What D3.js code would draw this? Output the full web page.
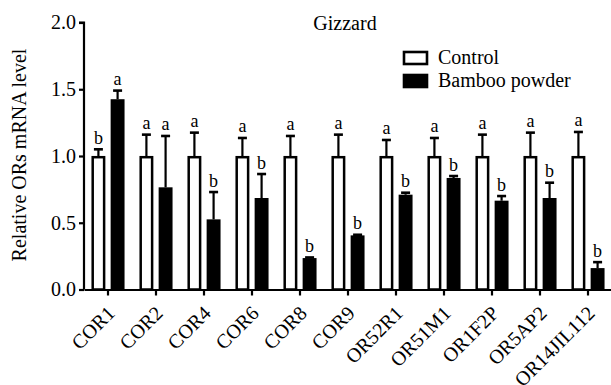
<!DOCTYPE html>
<html>
<head>
<meta charset="utf-8">
<script src="https://cdn.jsdelivr.net/npm/d3@7"></script>
<style>
  body { margin: 0; background: #fff; }
  text { font-family: "Liberation Serif", "Times New Roman", serif; fill: #000; }
</style>
</head>
<body>
<svg id="chart" width="611" height="385"></svg>
<script>
// genes on the x axis
const genes = ["COR1", "COR2", "COR4", "COR6", "COR8", "COR9", "OR52R1", "OR51M1", "OR1F2P", "OR5AP2", "OR14JIL112"];
const groups = ["Control", "Bamboo powder"];

// relative mRNA level, mean and mean + error
const controlMean = [1.0, 1.0, 1.0, 1.0, 1.0, 1.0, 1.0, 1.0, 1.0, 1.0, 1.0];
const controlErr  = [0.05, 0.16, 0.175, 0.135, 0.15, 0.16, 0.12, 0.135, 0.16, 0.175, 0.18];
const bambooMean  = [1.425, 0.765, 0.525, 0.685, 0.235, 0.405, 0.71, 0.835, 0.665, 0.685, 0.16];
const bambooErr   = [0.065, 0.385, 0.205, 0.18, 0.005, 0.005, 0.015, 0.015, 0.035, 0.115, 0.045];

// significance letters
const controlSig = ["b", "a", "a", "a", "a", "a", "a", "a", "a", "a", "a"];
const bambooSig  = ["a", "a", "b", "b", "b", "b", "b", "b", "b", "b", "b"];

const yTicks = [0, 0.5, 1.0, 1.5, 2.0];

const svg = d3.select("#chart");
const mLeft = 84, mRight = 612, mTop = 22.5, mBottom = 289.5;

let x = d3.scaleBand().domain(genes).range([mLeft, mRight]);
let xIn = d3.scaleBand().domain(groups).range([7.5, 40.5]).paddingInner(0.28);
let y = d3.scaleLinear().domain([0, 2]).range([mBottom, mTop]);

let rows = genes.map(function(g, i){
    return [
        {gene: g, group: groups[0], mean: controlMean[i], err: controlErr[i], sig: controlSig[i]},
        {gene: g, group: groups[1], mean: bambooMean[i], err: bambooErr[i], sig: bambooSig[i]}
    ];
}).flat();

// bars
let bar = svg.append("g").selectAll("g")
    .data(rows)
    .enter().append("g")
    .attr("transform", function(d){
        return "translate(" + (x(d.gene) + xIn(d.group)) + ",0)";
    });

let bw = xIn.bandwidth();

// error bars first so the bar outline covers the foot
bar.append("line")
    .attr("x1", bw / 2).attr("x2", bw / 2)
    .attr("y1", function(d){ return y(d.mean); })
    .attr("y2", function(d){ return y(d.mean + d.err); })
    .style("stroke", "#000")
    .style("stroke-width", 2.2);

bar.append("line")
    .attr("x1", bw / 2 - 4.5).attr("x2", bw / 2 + 4.5)
    .attr("y1", function(d){ return y(d.mean + d.err); })
    .attr("y2", function(d){ return y(d.mean + d.err); })
    .style("stroke", "#000")
    .style("stroke-width", 2.6);

bar.append("rect")
    .attr("x", 1.2)
    .attr("width", bw - 2.4)
    .attr("y", function(d){ return y(d.mean) + 1.2; })
    .attr("height", function(d){ return mBottom - y(d.mean) - 1.2; })
    .style("fill", function(d){
        if(d.group == "Control"){
            return "#fff";
        }
        else{
            return "#000";
        }
    })
    .style("stroke", "#000")
    .style("stroke-width", 2.5);

bar.append("text")
    .attr("x", bw / 2)
    .attr("y", function(d){ return y(d.mean + d.err) - 5.5; })
    .attr("text-anchor", "middle")
    .style("font-size", "18px")
    .text(function(d){ return d.sig; });

// axes
let yAxis = svg.append("g")
    .attr("transform", "translate(" + mLeft + ",0)")
    .call(d3.axisLeft(y).tickValues(yTicks).tickFormat(d3.format(".1f")).tickSize(5).tickPadding(3));

let xAxis = svg.append("g")
    .attr("transform", "translate(0," + mBottom + ")")
    .call(d3.axisBottom(x).tickSize(6).tickSizeOuter(0));

[yAxis, xAxis].forEach(function(a){
    a.attr("font-family", null);
    a.select(".domain").style("stroke", "#000").style("stroke-width", 2.2);
    a.selectAll(".tick line").style("stroke", "#000").style("stroke-width", 2.2);
    a.selectAll("text")
        .style("font-family", "'Liberation Serif', 'Times New Roman', serif")
        .style("font-size", "20px")
        .style("fill", "#000");
});
yAxis.select(".domain").attr("d", "M-5," + mTop + "H0V" + mBottom);

xAxis.selectAll(".tick text")
    .attr("text-anchor", "end")
    .attr("dy", "0")
    .attr("x", 0)
    .attr("y", 0)
    .attr("transform", "translate(8,25) rotate(-45)");

// y title
svg.append("text")
    .attr("transform", "translate(26," + ((mTop + mBottom) / 2 - 1) + ") rotate(-90)")
    .attr("text-anchor", "middle")
    .style("font-size", "20px")
    .text("Relative ORs mRNA level");

// title
svg.append("text")
    .attr("x", 345)
    .attr("y", 30)
    .attr("text-anchor", "middle")
    .style("font-size", "20px")
    .text("Gizzard");

// legend
let legend = svg.append("g").selectAll("g")
    .data(groups)
    .enter().append("g")
    .attr("transform", function(d, i){ return "translate(404," + (52 + i * 23) + ")"; });

legend.append("rect")
    .attr("width", 23).attr("height", 12)
    .style("fill", function(d, i){ return i == 0 ? "#fff" : "#000"; })
    .style("stroke", "#000")
    .style("stroke-width", 2.6);

legend.append("text")
    .attr("x", 34).attr("y", 12)
    .style("font-size", "20px")
    .text(function(d){ return d; });
</script>
</body>
</html>
